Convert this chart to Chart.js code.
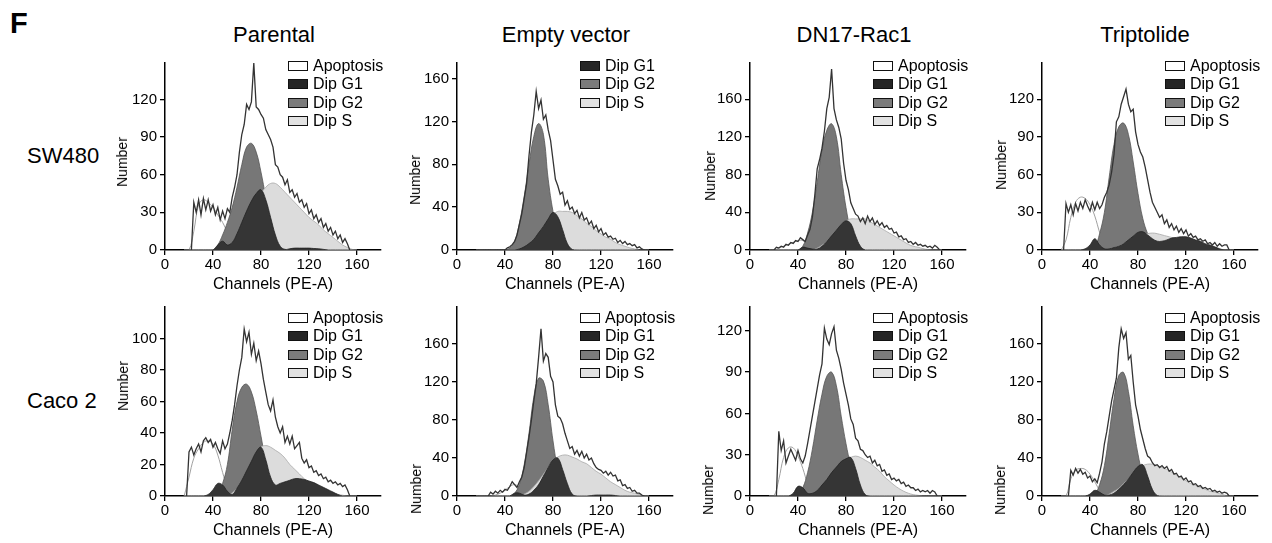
<!DOCTYPE html>
<html><head><meta charset="utf-8">
<script src="https://cdn.jsdelivr.net/npm/chart.js@4.4.1/dist/chart.umd.min.js"></script>
<style>
html,body{margin:0;padding:0;background:#fff;width:1272px;height:543px;overflow:hidden;font-family:"Liberation Sans",Arial,Helvetica,sans-serif;color:#000}
.t{position:absolute;white-space:nowrap;line-height:1}
canvas{position:absolute}
.lg{position:absolute;display:flex;align-items:center;height:18px;font-size:16px;white-space:nowrap}
.lg span.b{display:inline-block;width:20px;height:10px;border:1.5px solid #111;box-sizing:border-box;margin-right:5px}
</style></head><body>
<script>
// ---------- categories / labels ----------
const columnTitles = ['Parental', 'Empty vector', 'DN17-Rac1', 'Triptolide'];
const rowTitles = ['SW480', 'Caco 2'];
const xTitle = 'Channels (PE-A)';
const yTitle = 'Number';
const xTickValues = [0, 40, 80, 120, 160];
const yTicks30 = [0, 30, 60, 90, 120];
const yTicks40 = [0, 40, 80, 120, 160];
const yTicks20 = [0, 20, 40, 60, 80, 100];
const panelYTicks = [yTicks30, yTicks40, yTicks40, yTicks30, yTicks20, yTicks40, yTicks30, yTicks40];
const panelYMax = [149, 174.5, 198.4, 148.8, 120, 199, 137.3, 199];
const panelLegend = [
  ['Apoptosis','Dip G1','Dip G2','Dip S'], ['Dip G1','Dip G2','Dip S'],
  ['Apoptosis','Dip G1','Dip G2','Dip S'], ['Apoptosis','Dip G1','Dip G2','Dip S'],
  ['Apoptosis','Dip G1','Dip G2','Dip S'], ['Apoptosis','Dip G1','Dip G2','Dip S'],
  ['Apoptosis','Dip G1','Dip G2','Dip S'], ['Apoptosis','Dip G1','Dip G2','Dip S']];

// raw histogram channels (18..158 step 2)
const rawChannels = [18,20,22,24,26,28,30,32,34,36,38,40,42,44,46,48,50,52,54,56,58,60,62,64,66,68,70,72,74,76,78,80,82,84,86,88,90,92,94,96,98,100,102,104,106,108,110,112,114,116,118,120,122,124,126,128,130,132,134,136,138,140,142,144,146,148,150,152,154,156,158];
// fitted model channels (16..160 step 4)
const fitChannels = [16,20,24,28,32,36,40,44,48,52,56,60,64,68,72,76,80,84,88,92,96,100,104,108,112,116,120,124,128,132,136,140,144,148,152,156,160];

// ---------- SW480 Parental ----------
const p1Raw = [null,null,0,38,30,40,28,41,32,40, 31,36,28,34,24,31,25,33,30,42, 50,60,78,92,100,116,112,118,149,114, 112,108,105,96,92,88,82,68,66,60, 58,52,56,46,48,42,45,38,40,34, 37,29,32,25,28,22,25,18,21,15, 18,12,15,9,12,6,9,5,0,null, null];
const p1Apo = [0,0,15,36,40,38,34,28,22,14, 6,1,0,0,0,0,0,0,0,0, 0,0,0,0,0,0,0,0,0,0, 0,0,0,0,0,0,0];
const p1G1 = [0,0,0,0,0,0,0,4,7,4, 6,13,22,31,39,45,48,40,26,12, 3,0.5,1,1.5,1.5,1.5,1.5,1.2,1,0.5, 0,0,0,0,0,0,0];
const p1G2 = [0,0,0,0,0,0,0,4,12,22, 34,50,68,82,85,78,62,42,24,11, 4,1,0,0,0,0,0,0,0,0, 0,0,0,0,0,0,0];
const p1S = [0,0,0,0,0,0,0,0,0,0, 3,8,14,21,29,37,45,50,53,53, 50,46,42,38,34,30,26,23,20,16, 13,10,7,4,2,0.5,0];

// ---------- SW480 Empty vector ----------
const p2Raw = [null,null,null,null,null,null,null,null,null,null, null,0,2,3,5,8,14,24,34,48, 62,88,110,126,148,132,140,122,126,112, 102,84,66,60,52,54,42,46,38,40, 34,37,30,35,28,30,24,27,20,23, 17,20,14,16,12,13,10,11,7,9, 6,8,5,6,4,5,2,3,1,0, null];
const p2Apo = null;
const p2G1 = [0,0,0,0,0,0,0,0,0,1, 3,6,10,16,22,29,35,31,19,6, 0.5,0,0,0,0,0,0,0,0,0, 0,0,0,0,0,0,0];
const p2G2 = [0,0,0,0,0,0,0,2,8,25, 50,80,106,118,108,66,36,16,6,2, 0,0,0,0,0,0,0,0,0,0, 0,0,0,0,0,0,0];
const p2S = [0,0,0,0,0,0,0,0,0,0, 2,5,10,15,21,27,33,36,36,36, 35,32,29,25,22,18,15,12,10,7, 5,3.5,2,1,0,0,0];

// ---------- SW480 DN17-Rac1 ----------
const p3Raw = [null,0,3,2,4,3,6,5,8,7, 10,9,13,11,9,16,22,35,58,86, 96,108,126,150,162,192,150,138,130,118, 92,74,64,50,44,38,36,30,34,28, 36,30,34,27,31,26,29,24,26,22, 23,18,19,14,15,11,12,8,9,6, 8,5,6,4,5,3,4,2,5,3, 0];
const p3Apo = [0,0,2,4,6,8,10,10,6,2, 0,0,0,0,0,0,0,0,0,0, 0,0,0,0,0,0,0,0,0,0, 0,0,0,0,0,0,0];
const p3G1 = [0,0,0,0,0,0,0,3,2,1, 1,4,9,15,21,27,31,28,15,4, 0,0,0,0,0,0,0,0,0,0, 0,0,0,0,0,0,0];
const p3G2 = [0,0,0,0,0,0,0,4,18,40, 72,106,127,134,120,80,45,20,7,2, 0,0,0,0,0,0,0,0,0,0, 0,0,0,0,0,0,0];
const p3S = [0,0,0,0,0,0,0,0,0,0, 2,5,9,14,20,26,31,33,33,33, 33,30,27,24,21,18,15,12,9,6, 4,3,1.5,0.5,0,0,0];

// ---------- SW480 Triptolide ----------
const p4Raw = [0,37,30,36,28,37,31,38,33,40, 35,31,38,32,38,33,36,42,46,52, 62,76,102,106,116,122,128,116,110,112, 94,84,78,74,66,56,46,38,34,30, 26,28,21,24,18,21,16,19,14,17, 13,16,11,13,10,11,8,9,7,8, 5,6,4,6,3,5,3,4,4,0, null];
const p4Apo = [0,8,26,38,42,41,36,27,14,3, 0,0,0,0,0,0,0,0,0,0, 0,0,0,0,0,0,0,0,0,0, 0,0,0,0,0,0,0];
const p4G1 = [0,0,0,0,0,1,4,9,4,1, 1,2,3,5,8,11,14,14.5,12,9, 7,7,8,9.5,10,10.5,10.5,9.5,8,7, 5,4,2.5,1,0,0,0];
const p4G2 = [0,0,0,0,0,0,0,2,13,30, 58,84,98,101,92,70,45,25,13,5, 1.5,0,0,0,0,0,0,0,0,0, 0,0,0,0,0,0,0];
const p4S = [0,0,0,0,0,0,0,0,0,0, 1,2,3,5,7,9,11,12,13,13.5, 13,12,11,10,9,8,7,6,5,4, 3,2,1,0.5,0,0,0];

// ---------- Caco 2 Parental ----------
const p5Raw = [0,28,31,26,30,33,28,35,37,34, 36,31,34,30,27,35,30,33,40,48, 58,70,80,88,106,98,104,90,97,86, 92,84,74,66,58,54,61,50,44,40, 44,34,38,33,38,30,32,34,24,21, 23,18,19,15,16,13,14,11,12,9, 10,8,9,7,8,6,7,4,0,null, null];
const p5Apo = [0,12,24,30,34,35,33,26,15,5, 0,0,0,0,0,0,0,0,0,0, 0,0,0,0,0,0,0,0,0,0, 0,0,0,0,0,0,0];
const p5G1 = [0,0,0,0,0,1,4,8,7,3, 1,5,10,16,22,28,31,23,12,7, 8,9,10,11,11,10.5,9.5,8.5,7,5.5, 4,2.5,1,0,0,0,0];
const p5G2 = [0,0,0,0,0,0,0,2,8,20, 42,60,69,71,66,54,38,22,11,4, 1,0,0,0,0,0,0,0,0,0, 0,0,0,0,0,0,0];
const p5S = [0,0,0,0,0,0,0,0,0,0, 2,5,9,14,20,26,31,32,31,29, 27,24,20,17,14,11,9,7,5,4, 3,2,1,0.5,0,0,0];

// ---------- Caco 2 Empty vector ----------
const p6Raw = [null,null,null,null,0,4,2,5,3,6, 4,7,6,10,15,12,9,15,20,30, 46,62,80,100,118,146,176,142,150,146, 126,120,96,84,82,76,66,58,50,52, 44,48,42,47,40,44,38,40,34,30, 28,27,24,26,22,25,21,22,16,17, 11,12,8,9,5,6,3,3,1,0, null];
const p6Apo = [0,0,0,0,1,3,6,10,12,9, 3,0,0,0,0,0,0,0,0,0, 0,0,0,0,0,0,0,0,0,0, 0,0,0,0,0,0,0];
const p6G1 = [0,0,0,0,0,0,0,0,3,3, 1,2,6,12,21,30,38,40,28,13, 2,0,0,0,0.5,1,1,1,1,0.5, 0,0,0,0,0,0,0];
const p6G2 = [0,0,0,0,0,0,0,0,3,12, 33,66,104,124,121,96,58,28,11,4, 1,0,0,0,0,0,0,0,0,0, 0,0,0,0,0,0,0];
const p6S = [0,0,0,0,0,0,0,0,0,0, 2,5,10,16,23,30,37,41,43,43, 41,39,36,34,30,26,23,19,15,12, 9,6,4,3,1.5,0,0];

// ---------- Caco 2 DN17-Rac1 ----------
const p7Raw = [null,null,0,47,33,40,24,29,34,30, 26,33,27,24,29,38,48,58,68,78, 88,96,122,114,110,118,123,106,100,92, 82,74,66,56,52,42,40,34,33,30, 28,29,24,26,22,23,18,19,15,16, 12,13,11,12,9,10,7,8,6,6, 4,5,3,4,3,4,2,4,3,0, null];
const p7Apo = [0,0,12,28,35,35,29,20,9,2, 0,0,0,0,0,0,0,0,0,0, 0,0,0,0,0,0,0,0,0,0, 0,0,0,0,0,0,0];
const p7G1 = [0,0,0,0,0,2,7,6,2,2, 4,8,12,17,21,25,27,28,20,8, 1,0,0,0,0,0,0,0,0,0, 0,0,0,0,0,0,0];
const p7G2 = [0,0,0,0,0,0,1,6,17,34, 55,74,87,90,80,58,38,22,11,4, 1,0,0,0,0,0,0,0,0,0, 0,0,0,0,0,0,0];
const p7S = [0,0,0,0,0,0,0,0,0,0, 2,4,7,11,16,21,26,28,29,28, 26,24,21,18,14,11,8,5.5,3.5,2, 1,0.5,0,0,0,0,0];

// ---------- Caco 2 Triptolide ----------
const p8Raw = [null,null,0,27,22,29,24,28,23,25, 19,21,15,18,14,24,36,55,68,84, 100,112,124,156,176,166,172,144,148,120, 96,84,70,60,50,42,40,35,32,33, 30,32,29,31,26,28,23,24,20,21, 17,19,15,16,12,13,10,11,8,9, 7,8,5,6,4,5,3,4,3,0, null];
const p8Apo = [0,0,18,27,29,28,23,15,6,1, 0,0,0,0,0,0,0,0,0,0, 0,0,0,0,0,0,0,0,0,0, 0,0,0,0,0,0,0];
const p8G1 = [0,0,0,0,0,0,2,6,4,1, 1,3,7,12,18,25,31,33,21,7, 0.5,0,0,0,0,0,0,0,0,0, 0,0,0,0,0,0,0];
const p8G2 = [0,0,0,0,0,0,0,2,12,32, 66,102,127,130,110,74,44,22,9,3, 0.5,0,0,0,0,0,0,0,0,0, 0,0,0,0,0,0,0];
const p8S = [0,0,0,0,0,0,0,0,0,0, 2,5,8,13,18,24,29,32,33.5,33.5, 32,30,28,25,22,19,16,13,11,9, 7,5,4,2.5,1,0,0];

const panelRaw = [p1Raw,p2Raw,p3Raw,p4Raw,p5Raw,p6Raw,p7Raw,p8Raw];
const panelApo = [p1Apo,p2Apo,p3Apo,p4Apo,p5Apo,p6Apo,p7Apo,p8Apo];
const panelG1 = [p1G1,p2G1,p3G1,p4G1,p5G1,p6G1,p7G1,p8G1];
const panelG2 = [p1G2,p2G2,p3G2,p4G2,p5G2,p6G2,p7G2,p8G2];
const panelS = [p1S,p2S,p3S,p4S,p5S,p6S,p7S,p8S];

// ---------- layout / style (not data) ----------
const COL_X = [165, 457, 750, 1042];
const COL_TITLE_X = [274, 566, 854, 1145];
const ROW_TOP = [63, 307];
const PLOT_H = [187, 189];
const LEFT = 60, TOPPAD = 12, RIGHTPAD = 24, BOTTOM = 50;
const NUMBER_POS = [[122,162],[415,180],[710,176],[1001,165],[123,386],[416,489],[708,490],[1000,490]];
const LEGEND_Y0 = [66, 318];
const LEGEND_STEP = 18.3;
const FILL = {'Apoptosis':'#ffffff','Dip G1':'#353535','Dip G2':'#777777','Dip S':'#dcdcdc'};
const LEGEND_FILL = {'Apoptosis':'#ffffff','Dip G1':'#262626','Dip G2':'#7b7b7b','Dip S':'#e2e2e2'};
const FONT = '"Liberation Sans", Arial, Helvetica, sans-serif';

function addText(txt, css){ const d=document.createElement('div'); d.className='t'; d.textContent=txt; Object.assign(d.style, css); document.body.appendChild(d); return d; }

addText('F', {left:'10px', top:'9px', fontSize:'29px', fontWeight:'bold'});
columnTitles.forEach((t,i)=> addText(t, {left:COL_TITLE_X[i]+'px', top:'24px', fontSize:'22px', transform:'translateX(-50%)'}));
rowTitles.forEach((t,i)=> addText(t, {left:'27px', top:(i===0?145:390)+'px', fontSize:'22px'}));

function toPts(xs, ys){ return xs.map((x,i)=>({x:x, y:(ys[i]===null||ys[i]===undefined)?null:ys[i]})); }

const tickFont = {family: FONT, size: 15};

for (let p=0; p<8; p++){
  const r = Math.floor(p/4), col = p%4;
  const c = document.createElement('canvas');
  const W = LEFT + 216 + RIGHTPAD, H = TOPPAD + PLOT_H[r] + BOTTOM;
  c.width = W; c.height = H;
  c.style.width = W+'px'; c.style.height = H+'px';
  c.style.left = (COL_X[col]-LEFT)+'px'; c.style.top = (ROW_TOP[r]-TOPPAD)+'px';
  document.body.appendChild(c);

  const smooth = {pointRadius:0, tension:0.4, fill:'origin'};
  const ds = [];
  ds.push({label:'raw', data: toPts(rawChannels, panelRaw[p]), borderColor:'#333333', borderWidth:1.3, pointRadius:0, tension:0, fill:false, order:0});
  ds.push(Object.assign({label:'Dip G1', data: toPts(fitChannels, panelG1[p]), borderColor:'#222', borderWidth:0.8, backgroundColor:FILL['Dip G1'], order:1}, smooth));
  ds.push(Object.assign({label:'Dip S', data: toPts(fitChannels, panelS[p]), borderColor:'#a8a8a8', borderWidth:0.8, backgroundColor:FILL['Dip S'], order:2}, smooth));
  ds.push(Object.assign({label:'Dip G2', data: toPts(fitChannels, panelG2[p]), borderColor:'#555', borderWidth:0.8, backgroundColor:FILL['Dip G2'], order:3}, smooth));
  if (panelApo[p]) ds.push(Object.assign({label:'Apoptosis', data: toPts(fitChannels, panelApo[p]), borderColor:'#a0a0a0', borderWidth:1, backgroundColor:FILL['Apoptosis'], order:4}, smooth));

  const yT = panelYTicks[p];
  new Chart(c, {
    type:'line',
    data:{datasets: ds},
    options:{
      responsive:false, animation:false, events:[],
      layout:{padding:{left:0, top:TOPPAD, right:RIGHTPAD, bottom:0}},
      plugins:{legend:{display:false}, tooltip:{enabled:false}, title:{display:false}},
      scales:{
        x:{type:'linear', min:0, max:180,
           afterBuildTicks:(a)=>{ a.ticks = xTickValues.map(v=>({value:v})); },
           afterFit:(s)=>{ s.height = BOTTOM; },
           ticks:{color:'#000', font:tickFont, padding:1, maxRotation:0, autoSkip:false},
           grid:{display:true, drawOnChartArea:false, drawTicks:true, tickLength:5, color:'#000', lineWidth:1.3},
           border:{display:true, color:'#000', width:1.5}, z:1},
        y:{type:'linear', min:0, max:panelYMax[p],
           afterBuildTicks:(a)=>{ a.ticks = yT.map(v=>({value:v})); },
           afterFit:(s)=>{ s.width = LEFT; },
           ticks:{color:'#000', font:tickFont, padding:3},
           grid:{display:true, drawOnChartArea:false, drawTicks:true, tickLength:5, color:'#000', lineWidth:1.3},
           border:{display:true, color:'#000', width:1.5}, z:1}
      }
    }
  });

  addText(xTitle, {left:(COL_X[col]+108)+'px', top:(ROW_TOP[r]+PLOT_H[r]+34)+'px', fontSize:'16px', transform:'translate(-50%,-50%)'});
  addText(yTitle, {left:NUMBER_POS[p][0]+'px', top:NUMBER_POS[p][1]+'px', fontSize:'14px', transform:'translate(-50%,-50%) rotate(-90deg)'});

  panelLegend[p].forEach((name,i)=>{
    const d = document.createElement('div'); d.className='lg';
    d.style.left = (COL_X[col]+123)+'px';
    d.style.top = (LEGEND_Y0[r] + i*LEGEND_STEP - 9)+'px';
    const b = document.createElement('span'); b.className='b'; b.style.background = LEGEND_FILL[name];
    const s = document.createElement('span'); s.textContent = name;
    d.appendChild(b); d.appendChild(s); document.body.appendChild(d);
  });
}
</script>
</body></html>
